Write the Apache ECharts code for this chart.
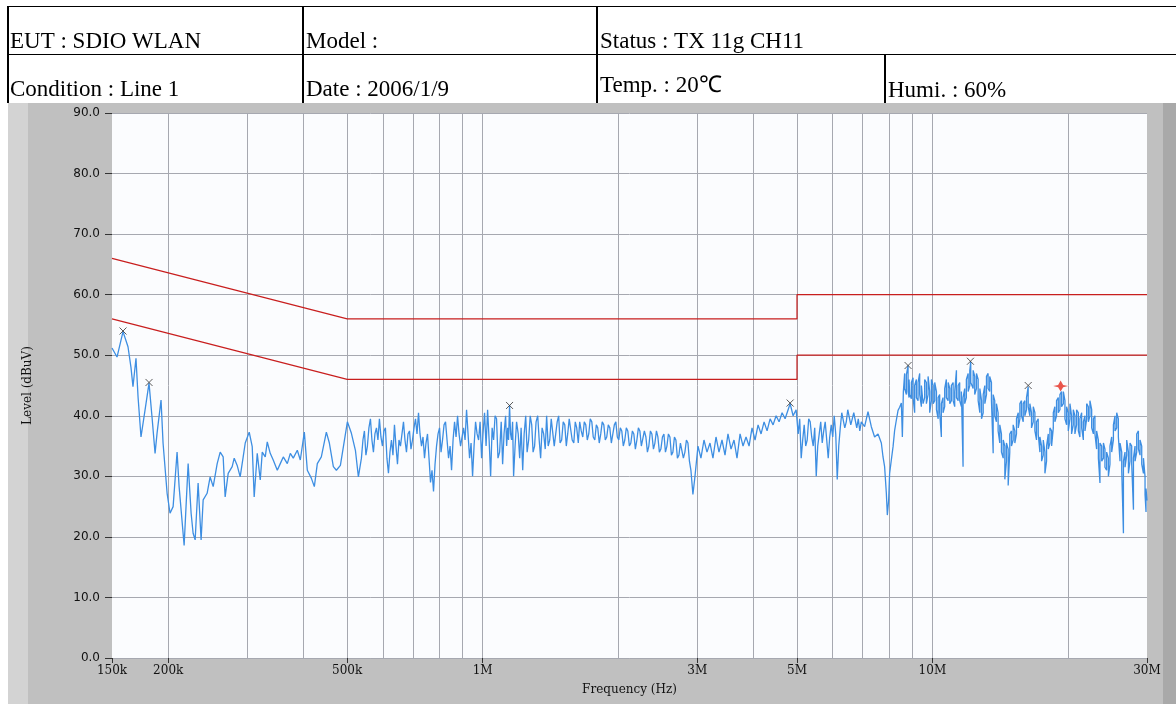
<!DOCTYPE html>
<html><head><meta charset="utf-8">
<script src="https://cdn.jsdelivr.net/npm/echarts@6/dist/echarts.min.js"></script>
<style>html,body{margin:0;padding:0;background:#fff}#c{width:1176px;height:704px}</style>
</head><body><div id="c"></div><script>
// ---- header table texts ----
const headerRow1 = ['EUT : SDIO WLAN', 'Model :', 'Status : TX 11g CH11'];
const headerRow2 = ['Condition : Line 1', 'Date : 2006/1/9', 'Temp. : 20\u2103', 'Humi. : 60%'];

// ---- axes (frequency in MHz) ----
const labelFreqs = [0.15, 0.2, 0.5, 1, 3, 5, 10, 30];
const labelTexts = ['150k', '200k', '500k', '1M', '3M', '5M', '10M', '30M'];
const gridFreqs = [0.2, 0.3, 0.4, 0.5, 0.6, 0.7, 0.8, 0.9, 1, 2, 3, 4, 5, 6, 7, 8, 9, 10, 20];

// ---- limit lines [MHz, dBuV] ----
const qpLimit = [[0.15, 66], [0.5, 56], [5, 56], [5, 60], [30, 60]];
const avLimit = [[0.15, 56], [0.5, 46], [5, 46], [5, 50], [30, 50]];

// ---- peak markers ----
const peaks = [[0.1587, 54.0], [0.1813, 45.5], [1.148, 41.7], [4.827, 42.1], [8.829, 48.3], [12.15, 49.0], [16.33, 45.0]];
const worstPeak = [[19.28, 44.9]];

// ---- measured trace [MHz, dBuV] ----
const trace = [
[0.1500,51.2],[0.1539,49.7],[0.1587,53.9],[0.1628,51.4],[0.1653,48.0],[0.1670,44.8],[0.1696,49.5],[0.1714,43.1],[0.1740,36.5],[0.1776,40.9],[0.1813,45.4],[0.1841,39.8],[0.1870,33.8],[0.1889,37.1],[0.1928,42.6],[0.1948,35.5],[0.1989,27.2],[0.2019,23.9],[0.2051,25.0],[0.2093,34.0],[0.2115,28.3],[0.2170,18.6],[0.2215,32.1],[0.2249,23.9],[0.2272,20.6],[0.2296,19.5],[0.2331,28.9],[0.2367,19.5],[0.2392,26.1],[0.2441,27.2],[0.2479,29.9],[0.2518,28.3],[0.2570,32.1],[0.2610,34.0],[0.2650,33.2],[0.2677,26.6],[0.2719,30.5],[0.2775,31.6],[0.2804,33.0],[0.2847,31.8],[0.2891,29.9],[0.2936,33.2],[0.2967,35.5],[0.3028,37.3],[0.3075,34.9],[0.3106,26.6],[0.3155,33.8],[0.3204,29.4],[0.3237,34.0],[0.3287,33.2],[0.3321,35.7],[0.3372,33.8],[0.3424,32.7],[0.3496,31.0],[0.3550,32.1],[0.3605,33.2],[0.3680,32.1],[0.3737,33.8],[0.3794,33.0],[0.3873,34.3],[0.3933,32.7],[0.4015,37.3],[0.4077,31.0],[0.4161,29.7],[0.4226,28.3],[0.4291,32.1],[0.4380,33.2],[0.4494,37.3],[0.4564,35.5],[0.4658,31.6],[0.4731,31.0],[0.4829,31.8],[0.4904,34.9],[0.5005,39.0],[0.5109,37.1],[0.5215,34.3],[0.5295,29.9],
[0.5378,33],[0.5420,36],[0.5461,37.5],[0.5503,33.5],[0.5545,35],[0.5588,38],[0.5632,39.5],[0.5675,36],[0.5719,34],[0.5763,37],[0.5808,38],[0.5852,36],[0.5897,39.5],[0.5943,36.5],[0.5989,35],[0.6035,37.5],[0.6081,38],[0.6128,33],[0.6176,30.5],[0.6224,34],[0.6272,36],[0.6320,33.5],[0.6369,38.5],[0.6418,35],[0.6468,32],[0.6518,36],[0.6568,35],[0.6619,37],[0.6670,39],[0.6721,36],[0.6773,34],[0.6825,37],[0.6878,37.5],[0.6931,34.5],[0.6985,36],[0.7039,38],[0.7093,39.5],[0.7148,37],[0.7203,40.5],[0.7259,37],[0.7315,35],[0.7371,36.5],[0.7428,33],[0.7485,35.5],[0.7543,37],[0.7601,33],[0.7660,29],[0.7719,31],[0.7779,27.5],[0.7839,32],[0.7900,35],[0.7961,37],[0.8022,38],[0.8084,34],[0.8146,36],[0.8209,38.5],[0.8272,39],[0.8336,36],[0.8401,33],[0.8466,35],[0.8531,31],[0.8597,36],[0.8663,39],[0.8730,36.5],[0.8797,40],[0.8865,37],[0.8934,35],[0.9003,36.5],[0.9072,38],[0.9142,36],[0.9212,41],[0.9283,37],[0.9355,33],[0.9427,35.5],[0.9500,30],[0.9573,35],[0.9647,39],[0.9722,37],[0.9797,36],[0.9873,39],[0.9949,33],[1.002,37],
[1.010,40.5],[1.018,35],[1.026,41],[1.034,36],[1.042,30],[1.050,38],[1.058,36],[1.066,40],[1.074,39.5],[1.082,33],[1.091,34],[1.100,39],[1.108,32],[1.116,37],[1.125,40],[1.131,35],[1.137,38],[1.142,36],[1.148,41.7],[1.154,37],[1.160,36],[1.166,39],[1.172,30],[1.181,35],[1.190,39],[1.200,37],[1.209,33],[1.218,38],[1.228,31],[1.237,37],[1.247,40],[1.256,34],[1.266,36],[1.276,40],[1.286,38.5],[1.295,34],[1.305,35],[1.315,39],[1.326,40],[1.336,36],[1.346,33],[1.356,38],[1.367,37],[1.378,34.5],[1.388,40],[1.399,35],[1.410,36],[1.421,39.5],[1.432,39.5],[1.443,35],[1.454,37],[1.465,39],[1.476,40],[1.487,35.5],[1.499,36],[1.511,39],[1.523,38.5],[1.535,35],[1.546,37],[1.558,39.5],[1.570,39.5],[1.582,36],[1.595,35.5],[1.607,39],[1.619,38],[1.632,35.5],[1.644,39],[1.657,37.5],[1.670,36.5],[1.683,39],[1.696,38.5],[1.709,36],[1.722,37],[1.735,39.5],[1.749,39],[1.762,36.5],[1.776,36],[1.790,38.5],[1.803,38],[1.817,35.5],[1.831,37],[1.845,39],[1.860,38.5],[1.874,36],[1.888,36.5],[1.903,38.5],[1.918,38],[1.933,35.5],[1.948,37],[1.963,38.5],[1.978,39],[1.993,36.5],[2.008,36],[2.024,38],
[2.039,37.5],[2.055,35],[2.071,36],[2.087,38],[2.103,37.5],[2.120,35],[2.136,35.5],[2.153,37.5],[2.169,37],[2.186,34.5],[2.203,36],[2.220,38],[2.237,37.5],[2.254,35],[2.271,35],[2.289,37.5],[2.307,36.5],[2.325,34],[2.342,35],[2.361,37.5],[2.379,37],[2.398,34.5],[2.416,35.5],[2.435,37.5],[2.453,36.5],[2.472,34],[2.491,34.5],[2.511,36.5],[2.530,37],[2.550,34],[2.569,35],[2.589,37],[2.609,36.5],[2.629,33.5],[2.649,34],[2.670,36.5],[2.690,36],[2.711,33],[2.732,33.5],[2.753,35.5],[2.774,35.5],[2.795,33],[2.817,34],[2.839,36],[2.861,35.5],[2.883,32.5],[2.905,31],[2.935,27],[2.966,30],
[3.012,35],[3.058,33],[3.106,36],[3.154,34],[3.203,35.5],[3.252,33],[3.303,36.5],[3.354,34],[3.406,36],[3.459,33.5],[3.512,37],[3.567,34.5],[3.622,36],[3.678,33],[3.736,37],[3.793,35],[3.852,36.5],[3.912,35],[3.972,38],[4.034,36],[4.097,38.5],[4.160,37],[4.225,39],[4.290,37.5],[4.357,39.5],[4.424,38.5],[4.493,40],[4.562,39],[4.633,40.5],[4.705,39.5],[4.778,41],[4.827,42],[4.902,40],[4.978,41],
[5.031,37],[5.070,39.5],[5.109,33],[5.148,36],[5.188,38.5],[5.228,35],[5.268,36],[5.309,39.5],[5.350,39],[5.391,36.5],[5.433,35],[5.475,38],[5.518,30],[5.560,35],[5.603,37],[5.646,39],[5.690,35.5],[5.733,37.5],[5.777,39],[5.822,36],[5.867,33],[5.912,36.5],[5.958,38.5],[6.004,36.5],[6.050,40],[6.097,37],[6.144,29.5],[6.192,35],[6.240,38],[6.288,40.5],[6.337,40.5],[6.386,38],[6.435,39],[6.484,41],[6.534,41],[6.585,38.5],[6.636,38.5],[6.687,40.5],[6.738,40.5],[6.790,38],[6.843,39.5],[6.896,37.5],
[6.949,39.0],[7.068,38.2],[7.192,40.7],[7.315,38.2],[7.439,36.5],[7.571,37.0],[7.700,35.5],[7.767,33.2],[7.830,31.6],[7.900,27.2],[7.940,23.6],[7.993,26.0],[8.034,30.5],[8.104,32.7],[8.176,34.9],[8.243,37.6],[8.315,39.3],[8.388,40.9],[8.457,41.4],[8.531,42.1],[8.575,36.5],[8.619,44.0],
[8.677,47.0],[8.677,44.5],[8.753,43.5],[8.753,46.8],[8.829,48.3],[8.829,44.0],[8.875,43.0],[8.875,46.0],[8.902,46.2],[8.902,43.5],[8.980,42.8],[8.980,45.5],[9.058,46.3],[9.058,43.0],[9.132,40.5],[9.132,45.0],[9.213,46.0],[9.213,43.0],[9.293,42.5],[9.293,45.5],[9.370,47.0],[9.370,43.5],[9.452,41.5],[9.452,45.0],[9.535,44.8],[9.535,42.0],[9.613,43.0],[9.613,46.0],[9.697,45.5],[9.697,42.0],[9.782,43.5],[9.782,46.5],[9.863,44.0],[9.863,40.5],[9.949,42.5],[9.949,46.0],[10.04,45.0],[10.04,42.0],[10.12,42.5],[10.12,45.5],[10.21,44.0],[10.21,41.0],[10.30,39.5],[10.30,43.0],[10.38,43.5],[10.38,40.5],[10.47,36.5],[10.47,42.0],[10.56,43.0],[10.56,40.5],[10.65,41.5],[10.65,44.5],[10.74,46.0],[10.74,43.0],[10.84,42.5],[10.84,45.5],[10.93,44.5],[10.93,42.0],[11.02,42.5],[11.02,45.0],[11.12,45.5],[11.12,42.5],[11.21,41.5],[11.21,44.0],[11.31,47.5],[11.31,43.0],[11.41,42.5],[11.41,45.0],[11.50,45.5],[11.50,42.5],[11.60,41.5],[11.60,44.0],[11.70,31.6],[11.70,43.0],[11.80,44.5],[11.80,42.0],[11.90,43.0],[11.90,46.0],[12.01,47.0],[12.01,44.0],[12.11,45.0],[12.11,47.5],[12.17,48.9],[12.17,45.5],[12.32,44.5],[12.32,47.5],[12.42,46.5],[12.42,43.5],[12.53,44.5],[12.53,47.0],[12.64,46.0],[12.64,42.5],[12.75,40.5],[12.75,44.5],[12.86,42.5],[12.86,39.5],[12.97,40.5],[12.97,43.5],[13.08,45.0],[13.08,42.0],[13.19,43.5],[13.19,46.5],[13.30,47.0],[13.30,44.5],[13.41,44.0],[13.41,46.5],[13.53,45.5],[13.53,42.5],[13.65,33.8],[13.65,43.5],[13.76,42.5],[13.76,40.0],[13.88,39.0],[13.88,42.0],[14.00,40.5],[14.00,37.5],[14.12,35.5],[14.12,38.5],[14.24,37.0],[14.24,34.0],[14.37,33.0],[14.37,36.0],[14.49,35.0],[14.49,29.5],[14.61,32.5],[14.61,35.5],[14.74,34.5],[14.74,28.5],[14.86,34.0],[14.86,37.0],[14.99,37.5],[14.99,35.0],[15.12,36.0],[15.12,38.5],[15.25,37.5],[15.25,35.5],[15.38,37.0],[15.38,39.5],[15.52,40.5],[15.52,38.0],[15.65,39.5],[15.65,42.0],[15.78,42.5],[15.78,40.0],[15.92,39.0],[15.92,42.0],[16.05,42.5],[16.05,40.0],[16.19,41.0],[16.19,43.0],[16.33,44.8],[16.33,41.5],[16.47,40.0],[16.47,42.0],[16.61,40.5],[16.61,38.0],[16.76,39.0],[16.76,41.5],[16.90,40.5],[16.90,37.5],[17.04,36.0],[17.04,39.0],[17.19,39.5],[17.19,37.0],[17.34,34.0],[17.34,36.5],[17.49,35.0],[17.49,32.5],[17.64,33.5],[17.64,36.0],[17.79,34.0],[17.79,30.5],[17.94,32.5],[17.94,35.0],[18.10,37.0],[18.10,34.5],[18.25,35.5],[18.25,38.0],[18.41,37.5],[18.41,35.0],[18.57,38.0],[18.57,40.5],[18.72,41.5],[18.72,39.0],[18.88,40.0],[18.88,42.5],[19.05,43.0],[19.05,40.5],[19.21,41.0],[19.21,43.5],[19.37,44.0],[19.37,41.5],[19.55,42.0],[19.55,44.0],[19.71,42.5],[19.71,39.5],[19.88,38.5],[19.88,41.5],[20.05,40.5],[20.05,37.5],[20.22,39.5],[20.22,42.0],[20.39,40.0],[20.39,37.0],[20.57,38.5],[20.57,41.0],[20.74,40.0],[20.74,37.0],[20.92,38.5],[20.92,41.0],[21.11,40.5],[21.11,37.5],[21.28,36.5],[21.28,39.5],[21.47,40.5],[21.47,38.0],[21.66,36.0],[21.66,39.0],[21.84,40.0],[21.84,37.5],[22.03,39.5],[22.03,42.0],[22.22,41.5],[22.22,39.0],[22.40,40.0],[22.40,42.5],[22.60,41.0],[22.60,38.0],[22.80,37.0],[22.80,39.5],[22.98,40.0],[22.98,37.0],[23.18,34.5],[23.18,37.5],[23.39,36.0],[23.39,33.0],[23.58,28.9],[23.58,35.5],[23.79,35.0],[23.79,32.5],[24.00,33.0],[24.00,35.5],[24.19,34.5],[24.19,31.5],[24.40,31.0],[24.40,34.0],[24.62,33.0],[24.62,30.0],[24.82,32.0],[24.82,35.0],[25.04,36.5],[25.04,34.0],[25.26,36.0],[25.26,38.5],[25.47,40.0],[25.47,37.5],[25.69,38.0],[25.69,40.5],[25.91,39.5],[25.91,36.5],[26.13,32.5],[26.13,35.5],[26.36,34.0],[26.36,31.0],[26.59,20.6],[26.59,32.5],[26.81,34.0],[26.81,31.5],[27.04,33.5],[27.04,36.0],[27.28,34.0],[27.28,30.5],[27.50,32.5],[27.50,35.5],[27.74,35.0],[27.74,32.0],[27.99,24.5],[27.99,33.0],[28.22,35.0],[28.22,32.5],[28.46,34.0],[28.46,37.0],[28.71,37.5],[28.71,34.5],[28.95,33.5],[28.95,36.0],[29.20,35.0],[29.20,32.0],[29.46,30.5],[29.46,33.0],[29.70,30.0],[29.70,27.0],[29.85,24.1],[29.85,28.0],[30.0,26.0]
];

const SERIF = '"Liberation Serif", "Times New Roman", serif';
const AXIS_SERIF = '"DejaVu Serif", serif';
const AXIS_SANS = '"DejaVu Sans", sans-serif';
const chart = echarts.init(document.getElementById('c'), null, {renderer: 'canvas'});

const g = [];
// grey instrument frame
g.push({type: 'rect', z: -10, shape: {x: 8, y: 103, width: 20, height: 601}, style: {fill: '#d3d3d3'}});
g.push({type: 'rect', z: -10, shape: {x: 28, y: 103, width: 1135, height: 601}, style: {fill: '#c0c0c0'}});
g.push({type: 'rect', z: -10, shape: {x: 1163, y: 103, width: 13, height: 601}, style: {fill: '#a9a9a9'}});
// table lines
const lineStyle = w => ({stroke: '#000', lineWidth: w});
g.push({type: 'line', z: -5, shape: {x1: 8, y1: 6.5, x2: 1176, y2: 6.5}, style: lineStyle(1)});
g.push({type: 'line', z: -5, shape: {x1: 8, y1: 54.5, x2: 1176, y2: 54.5}, style: lineStyle(1)});
g.push({type: 'line', z: -5, shape: {x1: 8, y1: 6, x2: 8, y2: 103}, style: lineStyle(2)});
g.push({type: 'line', z: -5, shape: {x1: 303, y1: 6, x2: 303, y2: 103}, style: lineStyle(2)});
g.push({type: 'line', z: -5, shape: {x1: 597, y1: 6, x2: 597, y2: 103}, style: lineStyle(2)});
g.push({type: 'line', z: -5, shape: {x1: 885, y1: 54, x2: 885, y2: 103}, style: lineStyle(2)});
const row1X = [10, 306, 600];
const row2X = [10, 306, 600, 888];
const row2Y = [90, 90, 86, 91];
headerRow1.forEach((t, i) => g.push({type: 'text', z: 5, style: {text: t, x: row1X[i], y: 42, font: '23px ' + SERIF, fill: '#000', verticalAlign: 'middle'}}));
headerRow2.forEach((t, i) => g.push({type: 'text', z: 5, style: {text: t, x: row2X[i], y: row2Y[i], font: '23px ' + SERIF, fill: '#000', verticalAlign: 'middle'}}));

const xLabel = v => {
  const i = labelFreqs.findIndex(f => Math.abs(f - v) / f < 1e-4);
  return i >= 0 ? labelTexts[i] : '';
};

chart.setOption({
  animation: false,
  backgroundColor: '#ffffff',
  graphic: g,
  grid: {left: 112, right: 29, top: 113, bottom: 46, show: true, backgroundColor: '#fbfcfe', borderWidth: 0},
  xAxis: [{
    type: 'log', logBase: 10, min: 0.15, max: 30,
    name: 'Frequency (Hz)', nameLocation: 'middle', nameGap: 26,
    nameTextStyle: {fontFamily: AXIS_SERIF, fontSize: 12, color: '#111'},
    axisLine: {show: false},
    axisTick: {show: true, customValues: labelFreqs, length: 5, lineStyle: {color: '#333'}},
    axisLabel: {customValues: labelFreqs, formatter: xLabel, margin: 7, fontFamily: AXIS_SERIF, fontSize: 12, color: '#111'},
    splitLine: {show: false}
  }, {
    type: 'log', logBase: 10, min: 0.15, max: 30, position: 'top',
    axisLine: {show: false},
    axisTick: {show: false, customValues: gridFreqs},
    axisLabel: {show: false},
    splitLine: {show: true, lineStyle: {color: '#a6a8b0', width: 1}}
  }],
  yAxis: {
    type: 'value', min: 0, max: 90, interval: 10,
    name: 'Level (dBuV)', nameLocation: 'middle', nameGap: 78, nameRotate: 90,
    nameTextStyle: {fontFamily: AXIS_SERIF, fontSize: 12, color: '#111'},
    axisLine: {show: false},
    axisTick: {show: true, length: 7, lineStyle: {color: '#333'}},
    axisLabel: {formatter: v => v.toFixed(1), margin: 12, fontFamily: AXIS_SANS, fontSize: 12, color: '#111'},
    splitLine: {show: true, lineStyle: {color: '#a6a8b0', width: 1}}
  },
  series: [
    {type: 'line', xAxisIndex: 0, data: trace, showSymbol: false, symbol: 'none', sampling: 'none',
     lineStyle: {color: '#3d8ee2', width: 1.3}, z: 2},
    {type: 'line', xAxisIndex: 0, data: qpLimit, symbol: 'none', lineStyle: {color: '#c81e1e', width: 1.2}, z: 3},
    {type: 'line', xAxisIndex: 0, data: avLimit, symbol: 'none', lineStyle: {color: '#c81e1e', width: 1.2}, z: 3},
    {type: 'scatter', xAxisIndex: 0, data: peaks, symbol: 'path://M0,0L10,10M10,0L0,10', symbolSize: 7,
     itemStyle: {color: 'rgba(0,0,0,0)', borderColor: '#333', borderWidth: 1}, z: 4},
    {type: 'scatter', xAxisIndex: 0, data: worstPeak, symbol: 'path://M0,5L5,4L7.5,0L10,4L15,5L10,6L7.5,10L5,6Z', symbolSize: [15, 11],
     itemStyle: {color: '#e52a1e'}, z: 5}
  ]
});
</script></body></html>
